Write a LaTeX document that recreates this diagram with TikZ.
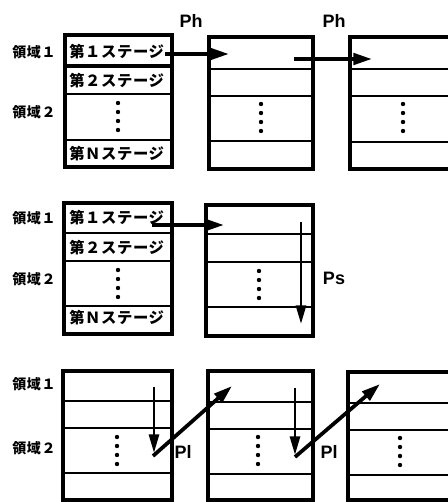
\documentclass[tikz,border=0pt]{standalone}
\usepackage{fontspec}
\setsansfont{Liberation Sans}
\newfontfamily\jp{Noto Sans CJK JP}[LetterSpace=4]
\usetikzlibrary{arrows.meta}

\begin{document}
\begin{tikzpicture}[x=0.75pt,y=-0.75pt,
  frame/.style={line width=2.6pt},
  sep/.style={line width=1.9pt},
  flow/.style={line width=2.8pt,-{Triangle[length=14pt,width=8.5pt]}},
  thinflow/.style={line width=2.1pt,-{Triangle[length=14pt,width=7.5pt]}},
  region/.style={font=\jp\bfseries\fontsize{10.5pt}{12pt}\selectfont, inner sep=0pt},
  stagetext/.style={font=\jp\bfseries\fontsize{11.5pt}{13pt}\selectfont, inner sep=0pt, anchor=west},
  plabel/.style={font=\sffamily\bfseries\fontsize{13.5pt}{15pt}\selectfont, inner sep=0pt},
  dotmark/.style={circle, fill, inner sep=0pt, minimum size=3.3pt}
]
\useasboundingbox (0,0) rectangle (448,502);

% ---------- top row: horizontal pipeline Ph ----------
\draw[frame] (65,35) rectangle (172,167);
\draw[line width=2.8pt] (65,66) -- (172,66);
\draw[sep] (65,94) -- (172,94) (65,140) -- (172,140);

\draw[frame] (209,37) rectangle (313,169);
\draw[sep] (209,69) -- (313,69) (209,96) -- (313,96) (209,141) -- (313,141);

\draw[frame] (448,37) -- (350,37) -- (350,169) -- (448,169);
\draw[sep] (350,69) -- (448,69) (350,96) -- (448,96) (350,142) -- (448,142);

\node[region] (r1a) at (34,52) {領域１};
\node[region] (r2a) at (34,112) {領域２};
\node[stagetext] (s1a) at (69,52) {第１ステージ};
\node[stagetext] (s2a) at (69,81) {第２ステージ};
\node[stagetext] (sna) at (69,154) {第Ｎステージ};
\foreach \y [count=\i] in {103,112,121,130} {
  \node[dotmark] (da\i) at (118,\y) {};
  \node[dotmark] (db\i) at (261,\y+1) {};
  \node[dotmark] (dc\i) at (403,\y+1) {};
}

\node[plabel] (ph1) at (191,21) {Ph};
\node[plabel] (ph2) at (334,21) {Ph};
\coordinate (pha) at (165,54);
\coordinate (phb) at (229,54);
\coordinate (phc) at (294,59);
\coordinate (phd) at (372,59);
\draw[flow] (pha) -- (phb);
\draw[flow] (phc) -- (phd);

% ---------- middle row: vertical pass Ps ----------
\draw[frame] (64,203) rectangle (172,334);
\draw[sep] (64,233) -- (172,233) (64,261) -- (172,261) (64,306) -- (172,306);

\draw[frame] (206,205) rectangle (313,336);
\draw[sep] (206,234) -- (313,234) (206,262) -- (313,262) (206,307) -- (313,307);

\node[region] (r1b) at (34,218) {領域１};
\node[region] (r2b) at (34,279) {領域２};
\node[stagetext] (s1b) at (69,218) {第１ステージ};
\node[stagetext] (s2b) at (69,248) {第２ステージ};
\node[stagetext] (snb) at (69,318) {第Ｎステージ};
\foreach \y [count=\i] in {270,279,288,297} {
  \node[dotmark] (dd\i) at (118,\y) {};
  \node[dotmark] (de\i) at (259,\y+1) {};
}

\coordinate (psa) at (152,225);
\coordinate (psb) at (224,225);
\draw[flow] (psa) -- (psb);
\coordinate (psc) at (301,222);
\coordinate (psd) at (301,324);
\draw[thinflow] (psc) -- (psd);
\node[plabel] (ps) at (334,278) {Ps};

% ---------- bottom row: Pl ----------
\draw[frame] (63,500) -- (63,371) -- (172,371) -- (172,500) -- cycle;
\draw[sep] (63,401) -- (172,401) (63,428) -- (172,428) (63,473) -- (172,473);

\draw[frame] (208,500) -- (208,371) -- (313,371) -- (313,500) -- cycle;
\draw[sep] (208,402) -- (313,402) (208,429) -- (313,429) (208,474) -- (313,474);

\draw[frame] (448,372) -- (348,372) -- (348,500) -- (448,500);
\draw[sep] (348,403) -- (448,403) (348,430) -- (448,430) (348,475) -- (448,475);

\node[region] (r1c) at (34,384) {領域１};
\node[region] (r2c) at (34,448) {領域２};
\foreach \y [count=\i] in {437,446,455,464} {
  \node[dotmark] (df\i) at (117,\y) {};
  \node[dotmark] (dg\i) at (258,\y) {};
  \node[dotmark] (dh\i) at (400,\y+1) {};
}

\coordinate (pla) at (154,387);
\coordinate (plb) at (154,453);
\coordinate (plc) at (153,456);
\coordinate (pld) at (232,386);
\draw[thinflow] (pla) -- (plb);
\draw[flow] (plc) -- (pld);
\node[plabel] (pl1) at (183,452) {Pl};

\coordinate (ple) at (295,388);
\coordinate (plf) at (295,455);
\coordinate (plg) at (295,457);
\coordinate (plh) at (380,384);
\draw[thinflow] (ple) -- (plf);
\draw[flow] (plg) -- (plh);
\node[plabel] (pl2) at (329,452) {Pl};
\end{tikzpicture}
\end{document}
